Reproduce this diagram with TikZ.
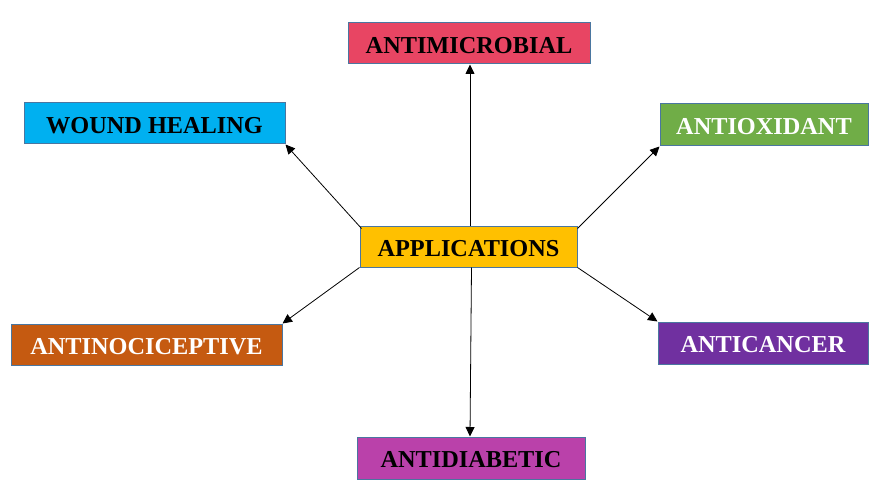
\documentclass[tikz,border=0pt]{standalone}
\usepackage{fontspec}
\setmainfont{Liberation Serif}
\usetikzlibrary{arrows.meta,calc}
\definecolor{bordc}{HTML}{4A76A0}
\definecolor{cmicro}{HTML}{E84563}
\definecolor{cwound}{HTML}{00B0F0}
\definecolor{coxid}{HTML}{70AD47}
\definecolor{capp}{HTML}{FFC000}
\definecolor{cnoci}{HTML}{C55A11}
\definecolor{ccanc}{HTML}{7030A0}
\definecolor{cdiab}{HTML}{BA41AA}
\tikzset{
  box/.style={draw=bordc, line width=1pt, inner sep=0pt, text height=19.6pt, text depth=0pt,
    font=\fontsize{24.3}{29}\selectfont\bfseries},
  conn/.style={line width=0.8pt, -{Triangle[length=9.5pt,width=9pt]}}
}
\begin{document}
\begin{tikzpicture}[x=1pt,y=-1pt]
\useasboundingbox (0,0) rectangle (880,494);
\node[box,fill=cmicro,text=black,minimum width=242pt,minimum height=41pt] (am) at (469,43.5) {ANTIMICROBIAL};
\node[box,fill=cwound,text=black,minimum width=261pt,minimum height=41pt] (wh) at (154.5,123.5) {WOUND HEALING};
\node[box,fill=coxid,text=white,minimum width=208pt,minimum height=42pt] (ox) at (764,125) {ANTIOXIDANT};
\node[box,fill=capp,text=black,minimum width=217pt,minimum height=40pt] (app) at (468.5,247) {APPLICATIONS};
\node[box,fill=cnoci,text=white,minimum width=271pt,minimum height=41pt] (nc) at (146.5,344.5) {ANTINOCICEPTIVE};
\node[box,fill=ccanc,text=white,minimum width=210pt,minimum height=42pt] (ca) at (763,343) {ANTICANCER};
\node[box,fill=cdiab,text=black,minimum width=228pt,minimum height=42pt] (ad) at (471,458) {ANTIDIABETIC};
\draw[conn] ([xshift=1.5pt]app.north) -- ([xshift=1pt]am.south);
\draw[conn] ([xshift=3pt]app.south) -- ([xshift=-1pt]ad.north);
\draw[conn] ([xshift=2pt,yshift=-2pt]app.north west) -- (wh.south east);
\draw[conn] ([yshift=-2pt]app.north east) -- (ox.south west);
\draw[conn] (app.south west) -- (nc.north east);
\draw[conn] (app.south east) -- (ca.north west);
\end{tikzpicture}
\end{document}
